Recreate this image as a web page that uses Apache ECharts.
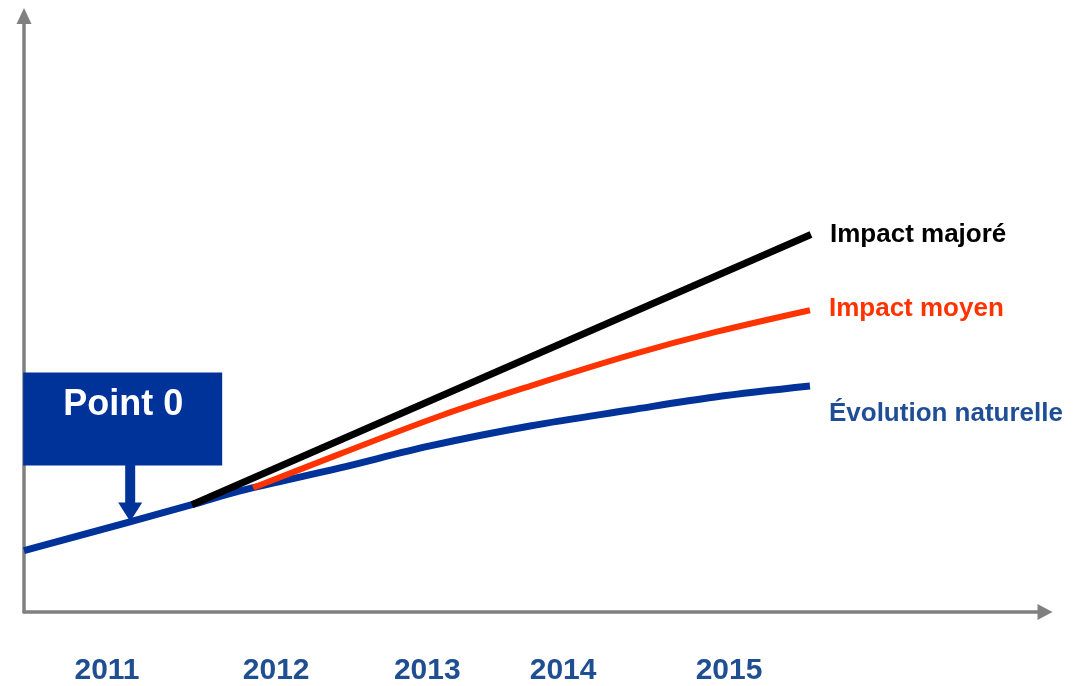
<!DOCTYPE html>
<html>
<head>
<meta charset="utf-8">
<script src="https://cdn.jsdelivr.net/npm/echarts@6/dist/echarts.min.js"></script>
<style>html,body{margin:0;padding:0;background:#fff}#c{width:1084px;height:686px}</style>
</head>
<body>
<div id="c"></div>
<script>
// Abstract index units (0-100)
const naturelle = [[0,10.3],[16.45,18.0],[21.16,20.33],[30.95,24.18],[39.77,27.87],[49.56,31.21],[59.35,33.89],[67.68,36.07],[76.98,37.91]];
const majore = [[16.45,18.0],[77.08,63.35]];
const moyen = [[22.44,20.84],[30.95,26.53],[40.74,32.89],[49.56,37.91],[59.35,43.10],[67.68,46.95],[76.98,50.63]];
const yearLabels = ['2011','2012','2013','2014','2015'];
const yearPos = [8.13,24.7,39.5,52.8,69.05];
const point0 = [10.4,15.2];

const FONT = 'Liberation Sans, Arial, sans-serif';
const chart = echarts.init(document.getElementById('c'));
const axisColor = '#808080';
chart.setOption({
  animation:false,
  backgroundColor:'#fff',
  grid:{left:24,right:39,top:16,bottom:72.5,containLabel:false},
  xAxis:{type:'value',min:0,max:100,
    axisLine:{show:true,onZero:false,symbol:['none','triangle'],symbolSize:[16,15],lineStyle:{color:axisColor,width:3.5}},
    axisTick:{show:false},splitLine:{show:false},
    axisLabel:{show:true,customValues:yearPos,margin:44,
      formatter:function(v){const i=yearPos.indexOf(v);return i>=0?yearLabels[i]:'';},
      color:'#1F4E91',fontSize:30,fontWeight:'bold',fontFamily:FONT,lineHeight:30}
  },
  yAxis:{type:'value',min:0,max:100,
    axisLine:{show:true,symbol:['none','triangle'],symbolSize:[15,16],lineStyle:{color:axisColor,width:3.5}},
    axisTick:{show:false},splitLine:{show:false},axisLabel:{show:false}
  },
  series:[
    {name:'Évolution naturelle',type:'line',data:naturelle,smooth:0.35,showSymbol:false,
      lineStyle:{color:'#003399',width:7,cap:'butt'},z:2,
      endLabel:{show:true,formatter:'{a}',distance:0,offset:[19,28],color:'#1F4E96',fontSize:26,fontWeight:'bold',fontFamily:FONT}},
    {name:'Impact moyen',type:'line',data:moyen,smooth:0.35,showSymbol:false,
      lineStyle:{color:'#FF3300',width:6,cap:'butt'},z:3,
      endLabel:{show:true,formatter:'{a}',distance:0,offset:[19,-1],color:'#FF3300',fontSize:26,fontWeight:'bold',fontFamily:FONT}},
    {name:'Impact majoré',type:'line',data:majore,showSymbol:false,
      lineStyle:{color:'#000000',width:7,cap:'butt'},z:4,
      endLabel:{show:true,formatter:'{a}',distance:0,offset:[19,0],color:'#000000',fontSize:26,fontWeight:'bold',fontFamily:FONT}}
  ]
});

const p = chart.convertToPixel({gridIndex:0}, point0);
const px = p[0], py = p[1];
chart.setOption({graphic:[
  {type:'rect',shape:{x:px-107,y:py-149,width:199,height:93},style:{fill:'#003399'},z:10},
  {type:'polygon',shape:{points:[[px-5,py-57],[px+5,py-57],[px+5,py-19],[px+12,py-19],[px,py],[px-12,py-19],[px-5,py-19]]},style:{fill:'#003399'},z:10},
  {type:'text',x:px-7,y:py-116,style:{text:'Point 0',fill:'#fff',font:'bold 36px '+FONT,textAlign:'center',textVerticalAlign:'middle'},z:11}
]});
</script>
</body>
</html>
